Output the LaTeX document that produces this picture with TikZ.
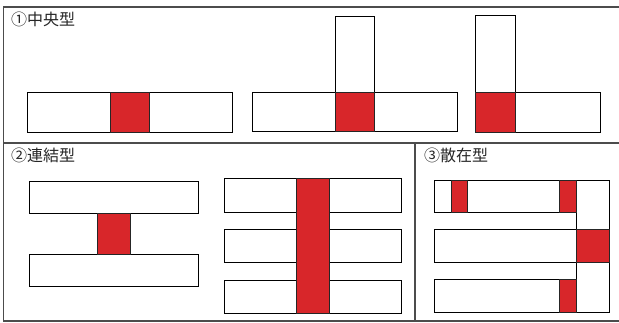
\documentclass[tikz,border=0pt]{standalone}
\usepackage{fontspec}
\newfontfamily\cjk{Noto Sans CJK JP}
\definecolor{redfill}{RGB}{216,38,42}
\begin{document}
\begin{tikzpicture}[x=1pt,y=-1pt,
  frame/.style={draw=black!70,line width=1.2pt},
  box/.style={draw=black,line width=0.9pt,fill=white},
  redbox/.style={draw=black!85,line width=0.9pt,fill=redfill},
  title/.style={anchor=north west,inner sep=0pt,font=\cjk\fontsize{16}{16}\selectfont,text=black!85}]
\useasboundingbox (0,0) rectangle (619,322);
% frame
\draw[frame] (619,7) -- (3.5,7) -- (3.5,321) -- (619,321);
\draw[frame] (3.5,143) -- (619,143);
\draw[frame] (415,143) -- (415,321);
% titles
\node[title] (t1) at (11,11.5) {①中央型};
\node[title] (t2) at (11,147.5) {②連結型};
\node[title] (t3) at (424,147.5) {③散在型};
% panel 1
\draw[box] (27.3,92.7) rectangle (232.3,132.3);
\draw[redbox] (110.3,92.7) rectangle (149.3,132.3);
\draw[box] (252.5,92.7) rectangle (457.3,131.7);
\draw[box] (335.7,16.3) rectangle (374.3,92.7);
\draw[redbox] (335.7,92.7) rectangle (374.3,131.7);
\draw[box] (475.7,92.7) rectangle (600,132);
\draw[box] (475.7,15.3) rectangle (515.3,92.7);
\draw[redbox] (475.7,92.7) rectangle (515.3,132);
% panel 2
\draw[box] (29.3,181.3) rectangle (198.7,213.3);
\draw[box] (29.3,254) rectangle (198.7,286);
\draw[redbox] (97.7,213.3) rectangle (130,254);
\draw[box] (224.7,178.7) rectangle (401.7,212);
\draw[box] (224.7,229.3) rectangle (401.7,262.7);
\draw[box] (224.7,280) rectangle (401.7,313.3);
\draw[redbox] (296.3,178.7) rectangle (329.7,313.3);
% panel 3
\draw[box] (434.3,180) rectangle (576,212.3);
\draw[box] (434.3,229.3) rectangle (576,262.3);
\draw[box] (434.3,279.3) rectangle (576,312.3);
\draw[box] (576,180) rectangle (609.3,312.3);
\draw[redbox] (451,180) rectangle (467.3,212.3);
\draw[redbox] (559.3,180) rectangle (576,212.3);
\draw[redbox] (576,229.3) rectangle (609.3,262.3);
\draw[redbox] (559.3,279.3) rectangle (576,312.3);
\end{tikzpicture}
\end{document}
